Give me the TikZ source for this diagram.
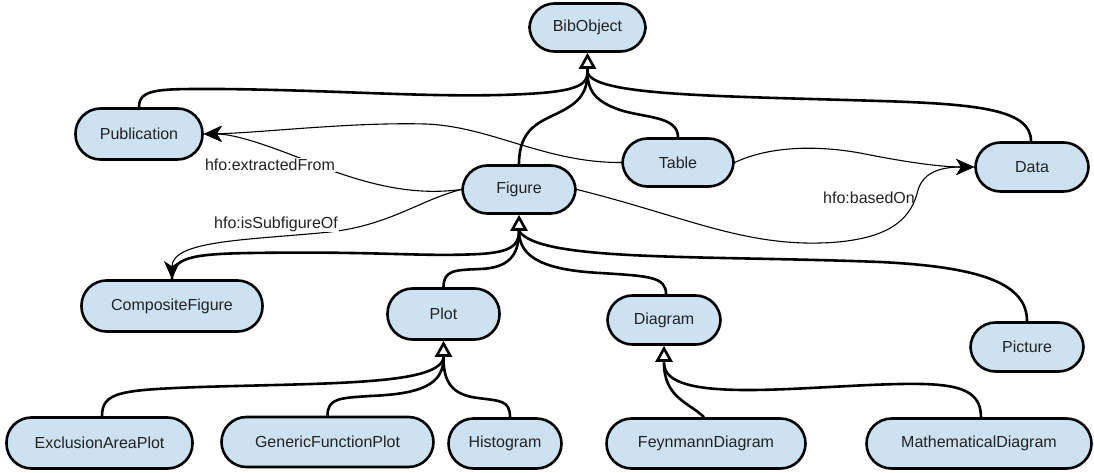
\documentclass[tikz,border=0pt]{standalone}
\usepackage{fontspec}
\setmainfont{Liberation Sans}
\usetikzlibrary{arrows.meta}
\definecolor{nodefill}{RGB}{204,226,242}
\definecolor{txt}{RGB}{34,34,34}
\begin{document}
\begin{tikzpicture}[x=1pt,y=-1pt,
  cls/.style={draw=black, line width=2.6pt, fill=nodefill, rounded corners=25pt,
    minimum height=49pt, inner sep=0pt, font=\fontsize{16}{19}\selectfont, text=txt},
  gen/.style={line width=2.6pt},
  inh/.style={line width=2.6pt, -{Triangle[open, fill=white, length=16pt, width=17pt]}},
  assoc/.style={line width=1.1pt, -{Stealth[length=18pt, width=16pt, inset=5pt]}},
  lbl/.style={font=\fontsize{16}{19}\selectfont, text=txt, inner sep=1pt}
]
\useasboundingbox (0,0) rectangle (1094,473);

% nodes
\node[cls, minimum width=116pt, minimum height=48pt] (bib)  at (587.5,27.5) {BibObject};
\node[cls, minimum width=127pt, minimum height=51pt] (pub)  at (139,134)    {Publication};
\node[cls, minimum width=111pt, minimum height=48pt] (tab)  at (678,162.5)  {Table};
\node[cls, minimum width=113pt]                      (data) at (1032,167)   {Data};
\node[cls, minimum width=113pt, minimum height=48pt] (fig)  at (519,189.5)  {Figure};
\node[cls, minimum width=181pt, minimum height=51pt] (comp) at (172,306)    {CompositeFigure};
\node[cls, minimum width=112pt, minimum height=51pt] (plot) at (443.5,314)  {Plot};
\node[cls, minimum width=113pt]                      (diag) at (664,320)    {Diagram};
\node[cls, minimum width=113pt]                      (pic)  at (1027,347)   {Picture};
\node[cls, minimum width=186pt, minimum height=51pt] (eap)  at (99.5,443)   {ExclusionAreaPlot};
\node[cls, minimum width=212pt, minimum height=50pt] (gfp)  at (327.5,442)  {GenericFunctionPlot};
\node[cls, minimum width=113pt, minimum height=50pt] (hist) at (505,443.5)  {Histogram};
\node[cls, minimum width=199pt, minimum height=50pt] (feyn) at (706,443.5)  {FeynmannDiagram};
\node[cls, minimum width=225pt, minimum height=50pt] (math) at (979,443.5)  {MathematicalDiagram};

% generalization to BibObject
\coordinate (bibT) at (587.5,72);
\draw[gen] (pub.north) .. controls (139,88) and (160,89) .. (220,89)
  .. controls (330,90) and (420,97) .. (500,95)
  .. controls (570,93) and (587.5,88) .. (bibT);
\draw[gen] (fig.north) .. controls (519,128) and (540,122) .. (560,112)
  .. controls (580,102) and (587.5,92) .. (bibT);
\draw[gen] (tab.north) .. controls (678,116) and (645,118) .. (620,110)
  .. controls (597,102) and (587.5,92) .. (bibT);
\draw[gen] ([xshift=-1pt]data.north) .. controls (1031,110) and (980,104) .. (880,101)
  .. controls (720,96) and (592,96) .. (bibT);
\draw[inh] (bibT) -- (bib.south);

% generalization to Figure
\coordinate (figT) at (519,231);
\draw[gen] (comp.north) .. controls (172,258) and (190,254) .. (250,253)
  .. controls (380,251) and (420,257) .. (480,254)
  .. controls (510,252) and (519,246) .. (figT);
\draw[gen] (plot.north) .. controls (443.5,270) and (455,270) .. (480,269)
  .. controls (508,268) and (519,256) .. (figT);
\draw[gen] ([xshift=2pt]diag.north) .. controls (666,277) and (650,276) .. (600,273)
  .. controls (545,270) and (519,258) .. (figT);
\draw[gen] (pic.north) .. controls (1027,285) and (985,267) .. (880,262)
  .. controls (700,255) and (540,262) .. (figT);
\draw[inh] (figT) -- (fig.south);

% generalization to Plot
\coordinate (plotT) at (443.5,358);
\draw[gen] ([xshift=2.5pt]eap.north) .. controls (102,392) and (120,390) .. (200,387)
  .. controls (330,383) and (438,385) .. (plotT);
\draw[gen] (gfp.north) .. controls (327.5,398) and (340,398) .. (370,396)
  .. controls (420,394) and (443.5,385) .. (plotT);
\draw[gen] ([xshift=5pt]hist.north) .. controls (510,400) and (500,401) .. (478,398)
  .. controls (452,395) and (443.5,382) .. (plotT);
\draw[inh] (plotT) -- (plot.south);

% generalization to Diagram
\coordinate (diaT) at (664,363);
\draw[gen] ([xshift=-2pt]feyn.north) .. controls (690,403) and (664,398) .. (diaT);
\draw[gen] ([xshift=2pt]math.north) .. controls (981,388) and (955,383) .. (900,384)
  .. controls (800,386) and (664,405) .. (diaT);
\draw[inh] (diaT) -- (diag.south);

% associations
\draw[assoc] (tab.west) .. controls (545,163) and (490,126) .. (425,124)
  .. controls (350,122) and (260,133) .. (pub.east);
\draw[assoc] (fig.west) .. controls (420,195) and (380,188) .. (330,170)
  .. controls (285,152) and (240,134) .. (pub.east);
\node[lbl, fill=white] (lex) at (270,165) {hfo:extractedFrom};

\draw[assoc] (fig.west) .. controls (420,200) and (390,225) .. (330,232)
  .. controls (250,240) and (172,240) .. (comp.north);
\node[lbl, fill=white] (lsub) at (276,224) {hfo:isSubfigureOf};

\draw[assoc] (tab.east) .. controls (765,148) and (810,144) .. (860,153)
  .. controls (905,162) and (940,167) .. (data.west);
\draw[assoc] (fig.east) .. controls (680,215) and (740,245) .. (820,243)
  .. controls (895,241) and (912,215) .. (918,190)
  .. controls (924,170) and (945,167) .. (data.west);
\node[lbl] (lbas) at (869,198) {hfo:basedOn};
\end{tikzpicture}
\end{document}
